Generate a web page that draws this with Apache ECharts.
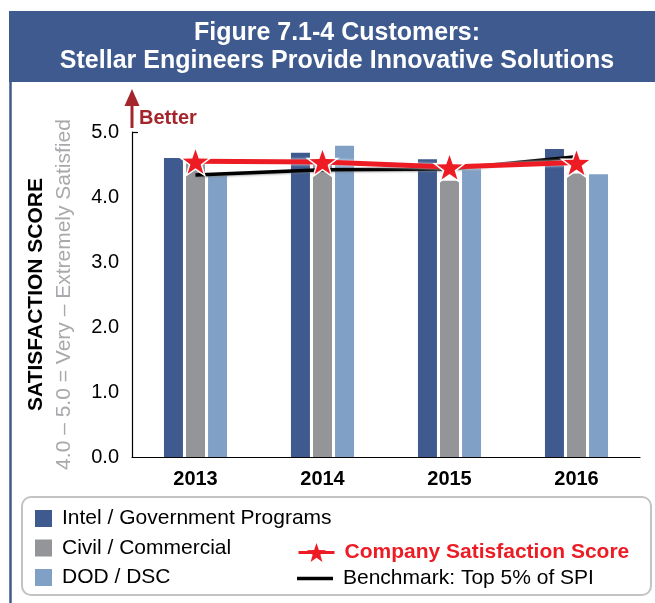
<!DOCTYPE html>
<html>
<head>
<meta charset="utf-8">
<script src="https://cdn.jsdelivr.net/npm/echarts@6/dist/echarts.min.js"></script>
<style>
html,body{margin:0;padding:0;background:#fff;}
#chart{width:655px;height:603px;}
</style>
</head>
<body>
<div id="chart"></div>
<script>
const categories = ['2013', '2014', '2015', '2016'];
const yTicks = [0, 1, 2, 3, 4, 5];
const intelGov = [4.60, 4.68, 4.58, 4.74];
const civilCommercial = [4.52, 4.50, 4.25, 4.36];
const dodDsc = [4.33, 4.79, 4.46, 4.35];
const companyScore = [4.55, 4.54, 4.46, 4.53];
const benchmark = [4.34, 4.42, 4.43, 4.62];

const FONT = "'Liberation Sans', Arial, sans-serif";
const STAR = 'path://M0,-10L2.35,-3.24L9.51,-3.09L3.8,1.24L5.88,8.09L0,4L-5.88,8.09L-3.8,1.24L-9.51,-3.09L-2.35,-3.24Z';

const chart = echarts.init(document.getElementById('chart'));

const option = {
  backgroundColor: '#ffffff',
  animation: false,
  textStyle: { fontFamily: FONT },
  title: {
    text: 'Figure 7.1-4 Customers:\nStellar Engineers Provide Innovative Solutions',
    left: 332,
    textAlign: 'center',
    top: 14,
    textStyle: { color: '#ffffff', fontSize: 25, fontWeight: 'bold', lineHeight: 28, fontFamily: FONT }
  },
  grid: { left: 132, right: 15, top: 132, bottom: 146 },
  xAxis: {
    type: 'category',
    data: categories,
    boundaryGap: true,
    axisLine: { lineStyle: { color: '#000', width: 1.2 } },
    axisTick: { inside: true, length: 5, lineStyle: { color: '#000' } },
    axisLabel: { color: '#000', fontSize: 20, fontWeight: 'bold', margin: 12, fontFamily: FONT }
  },
  yAxis: {
    type: 'value',
    min: yTicks[0],
    max: yTicks[yTicks.length - 1],
    interval: 1,
    splitLine: { show: false },
    axisLine: { show: true, lineStyle: { color: '#000', width: 1.2 } },
    axisTick: { show: false },
    axisLabel: { color: '#000', fontSize: 20, margin: 13, fontFamily: FONT, formatter: v => v.toFixed(1) },
    name: '{a|SATISFACTION SCORE}\n{b|4.0 – 5.0 = Very – Extremely Satisfied}',
    nameLocation: 'middle',
    nameRotate: 90,
    nameGap: 54,
    nameTextStyle: {
      lineHeight: 28,
      rich: {
        a: { fontSize: 21, fontWeight: 'bold', color: '#000', fontFamily: FONT, lineHeight: 28 },
        b: { fontSize: 21, color: '#a7a9ac', fontFamily: FONT, lineHeight: 28 }
      }
    }
  },
  legend: [
    {
      orient: 'vertical',
      left: 30,
      top: 503,
      itemWidth: 17,
      itemHeight: 17,
      itemGap: 8.5,
      icon: 'rect',
      textStyle: { fontSize: 21, color: '#000', fontFamily: FONT, padding: [0, 0, 0, 5] },
      data: ['Intel / Government Programs', 'Civil / Commercial', 'DOD / DSC']
    },
    {
      orient: 'vertical',
      left: 292,
      top: 537,
      itemWidth: 36,
      itemHeight: 24,
      textStyle: { fontSize: 21, color: '#ed1c24', fontWeight: 'bold', fontFamily: FONT, padding: [0, 0, 0, 5] },
      itemStyle: { borderWidth: 0 },
      lineStyle: { width: 3 },
      data: ['Company Satisfaction Score']
    },
    {
      orient: 'vertical',
      left: 292,
      top: 563,
      itemWidth: 36,
      itemHeight: 20,
      textStyle: { fontSize: 21, color: '#000', fontFamily: FONT, padding: [0, 0, 0, 5] },
      data: [{ name: 'Benchmark: Top 5% of SPI', icon: 'path://M0,0L36,0L36,3.5L0,3.5Z' }]
    }
  ],
  graphic: [
    { type: 'rect', shape: { x: 9, y: 11, width: 646, height: 71 }, style: { fill: '#3e5a8e' }, z: -1 },
    { type: 'line', shape: { x1: 10.5, y1: 82, x2: 10.5, y2: 603 }, style: { stroke: '#3e5a8e', lineWidth: 2.5 }, z: -1 },
    { type: 'rect', shape: { x: 22, y: 497, width: 629, height: 98, r: 9 }, style: { fill: 'none', stroke: '#c3c3c3', lineWidth: 2 }, z: -1 },
    { type: 'line', shape: { x1: 132, y1: 132.5, x2: 138, y2: 132.5 }, style: { stroke: '#000', lineWidth: 1.2 } },
    { type: 'polygon', shape: { points: [[132, 89], [139.5, 106], [124.5, 106]] }, style: { fill: '#a4262c' } },
    { type: 'rect', shape: { x: 130.5, y: 104, width: 3, height: 24 }, style: { fill: '#a4262c' } },
    { type: 'text', x: 139, y: 118, style: { text: 'Better', fill: '#a4262c', font: "bold 20px 'Liberation Sans', Arial, sans-serif", verticalAlign: 'middle' } }
  ],
  series: [
    {
      name: 'Intel / Government Programs', type: 'bar', data: intelGov,
      barWidth: 19, barGap: '16%', itemStyle: { color: '#3e5a8e' }
    },
    {
      name: 'Civil / Commercial', type: 'bar', data: civilCommercial,
      barWidth: 19, barGap: '16%', itemStyle: { color: '#939598' }
    },
    {
      name: 'DOD / DSC', type: 'bar', data: dodDsc,
      barWidth: 19, barGap: '16%', itemStyle: { color: '#81a0c6' }
    },
    {
      name: 'Benchmark: Top 5% of SPI', type: 'line', data: benchmark,
      symbol: 'none', itemStyle: { color: '#000' },
      lineStyle: { color: '#000', width: 3.5, shadowColor: 'rgba(120,120,120,0.6)', shadowBlur: 2, shadowOffsetY: 1 },
      z: 4
    },
    {
      name: 'Company Satisfaction Score', type: 'line', data: companyScore,
      symbol: STAR, symbolSize: 30, symbolKeepAspect: true,
      itemStyle: { color: '#ed1c24', borderColor: '#ffffff', borderWidth: 1.5 },
      lineStyle: { color: '#ed1c24', width: 5, shadowColor: '#ffffff', shadowBlur: 3 },
      z: 5
    }
  ]
};
chart.setOption(option);
</script>
</body>
</html>
